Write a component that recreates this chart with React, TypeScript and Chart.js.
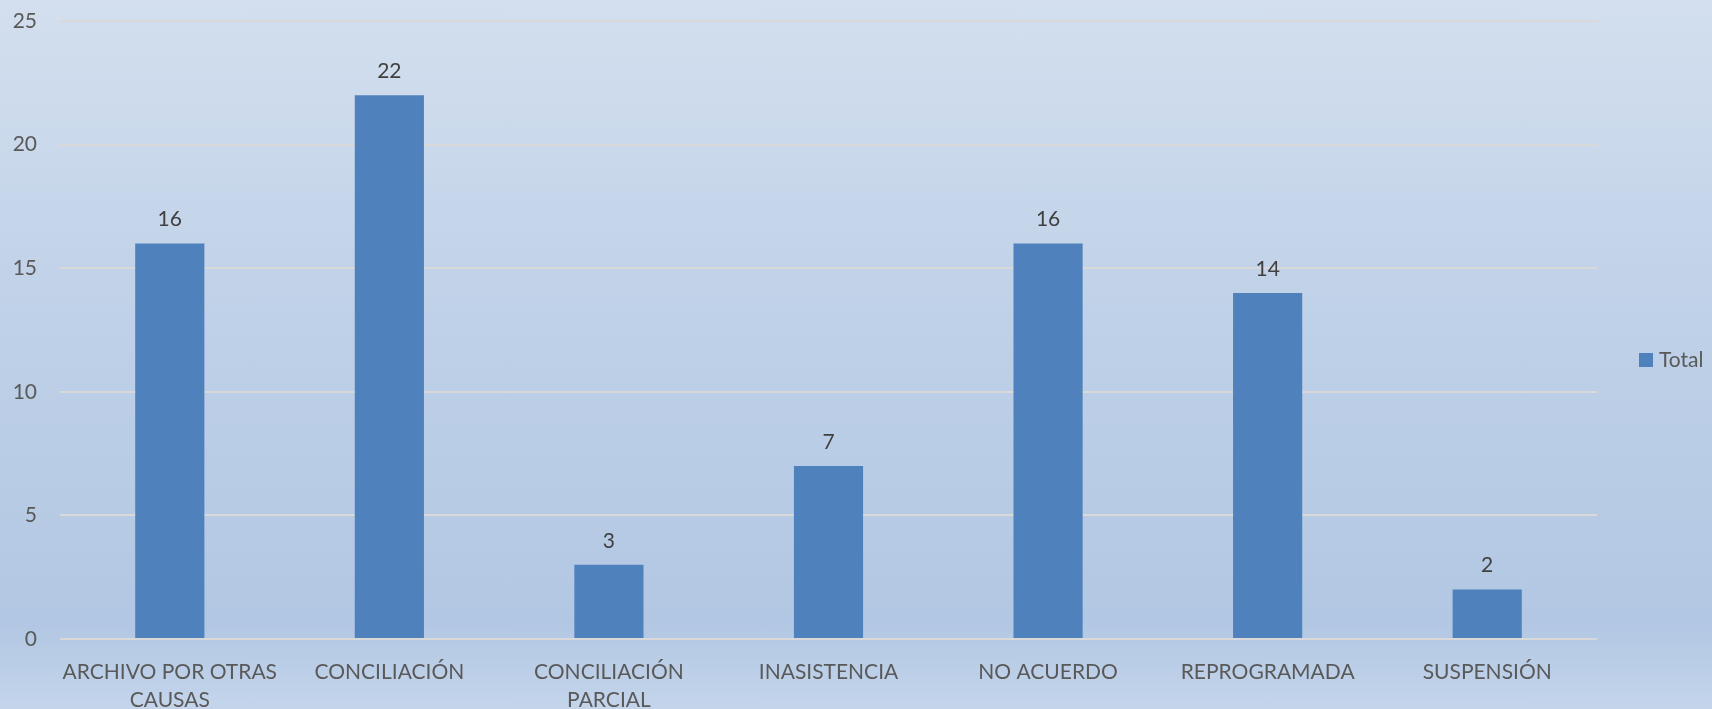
import React, { useEffect, useRef } from "react";
import { Chart, registerables } from "chart.js";

Chart.register(...registerables);

const categories: (string | string[])[] = [
  ["ARCHIVO POR OTRAS", "CAUSAS"],
  "CONCILIACIÓN",
  ["CONCILIACIÓN", "PARCIAL"],
  "INASISTENCIA",
  "NO ACUERDO",
  "REPROGRAMADA",
  "SUSPENSIÓN",
];
const totalValues: number[] = [16, 22, 3, 7, 16, 14, 2];
const yTicks: number[] = [0, 5, 10, 15, 20, 25];
const seriesLabel = "Total";

const FONT = "Lato, 'Open Sans', sans-serif";
const BAR_COLOR = "#4f81bd";

const valueLabels = {
  id: "valueLabels",
  afterDatasetsDraw(chart: any) {
    const ctx = chart.ctx;
    ctx.save();
    ctx.font = `21px ${FONT}`;
    ctx.fillStyle = "#404040";
    ctx.textAlign = "center";
    ctx.textBaseline = "middle";
    chart.data.datasets.forEach((ds: any, i: number) => {
      const meta = chart.getDatasetMeta(i);
      meta.data.forEach((bar: any, j: number) => {
        ctx.fillText(String(ds.data[j]), bar.x, bar.y - 24);
      });
    });
    ctx.restore();
  },
};

const sideLegend = {
  id: "sideLegend",
  afterDraw(chart: any) {
    const ctx = chart.ctx;
    const area = chart.chartArea;
    const ds = chart.data.datasets[0];
    const bx = area.right + 42;
    const cy = 360;
    ctx.save();
    ctx.fillStyle = ds.backgroundColor;
    ctx.fillRect(bx, cy - 7, 14, 14);
    ctx.font = `21px ${FONT}`;
    ctx.fillStyle = "#595959";
    ctx.textAlign = "left";
    ctx.textBaseline = "middle";
    ctx.fillText(ds.label, bx + 20, cy);
    ctx.restore();
  },
};

export default function App() {
  const ref = useRef<HTMLCanvasElement | null>(null);

  useEffect(() => {
    if (!ref.current) return;
    const chart = new Chart(ref.current, {
      type: "bar",
      data: {
        labels: categories,
        datasets: [
          {
            label: seriesLabel,
            data: totalValues,
            backgroundColor: BAR_COLOR,
            barPercentage: 0.315,
            categoryPercentage: 1,
          },
        ],
      },
      options: {
        responsive: false,
        animation: false,
        layout: { padding: { left: 0, right: 115, top: 21, bottom: 0 } },
        plugins: {
          legend: { display: false },
          tooltip: { enabled: false },
        },
        scales: {
          x: {
            grid: { display: false, drawTicks: false },
            border: { display: false },
            ticks: {
              color: "#595959",
              font: { family: FONT, size: 21, lineHeight: 28 / 21 },
              padding: 19,
              maxRotation: 0,
              autoSkip: false,
            },
            afterFit(scale: any) {
              scale.height = 70;
              scale.paddingLeft = 0;
              scale.paddingRight = 0;
            },
          },
          y: {
            min: 0,
            max: 25,
            afterBuildTicks(scale: any) {
              scale.ticks = yTicks.map((v) => ({ value: v }));
            },
            grid: { color: "#d9d9d9", lineWidth: 2, drawTicks: false },
            border: { display: false },
            ticks: {
              color: "#595959",
              font: { family: FONT, size: 21 },
              padding: 23,
            },
            afterFit(scale: any) {
              scale.width = 60;
              scale.paddingTop = 0;
              scale.paddingBottom = 0;
            },
          },
        },
      },
      plugins: [valueLabels, sideLegend],
    });
    return () => chart.destroy();
  }, []);

  return (
    <div
      style={{
        position: "fixed",
        left: 0,
        top: 0,
        width: 1712,
        height: 709,
        background:
          "linear-gradient(to bottom, #d3dfee 0%, #bfd1e8 45%, #b2c7e3 88%, #c4d5eb 100%)",
      }}
    >
      <canvas ref={ref} width={1712} height={709} style={{ display: "block" }} />
    </div>
  );
}
